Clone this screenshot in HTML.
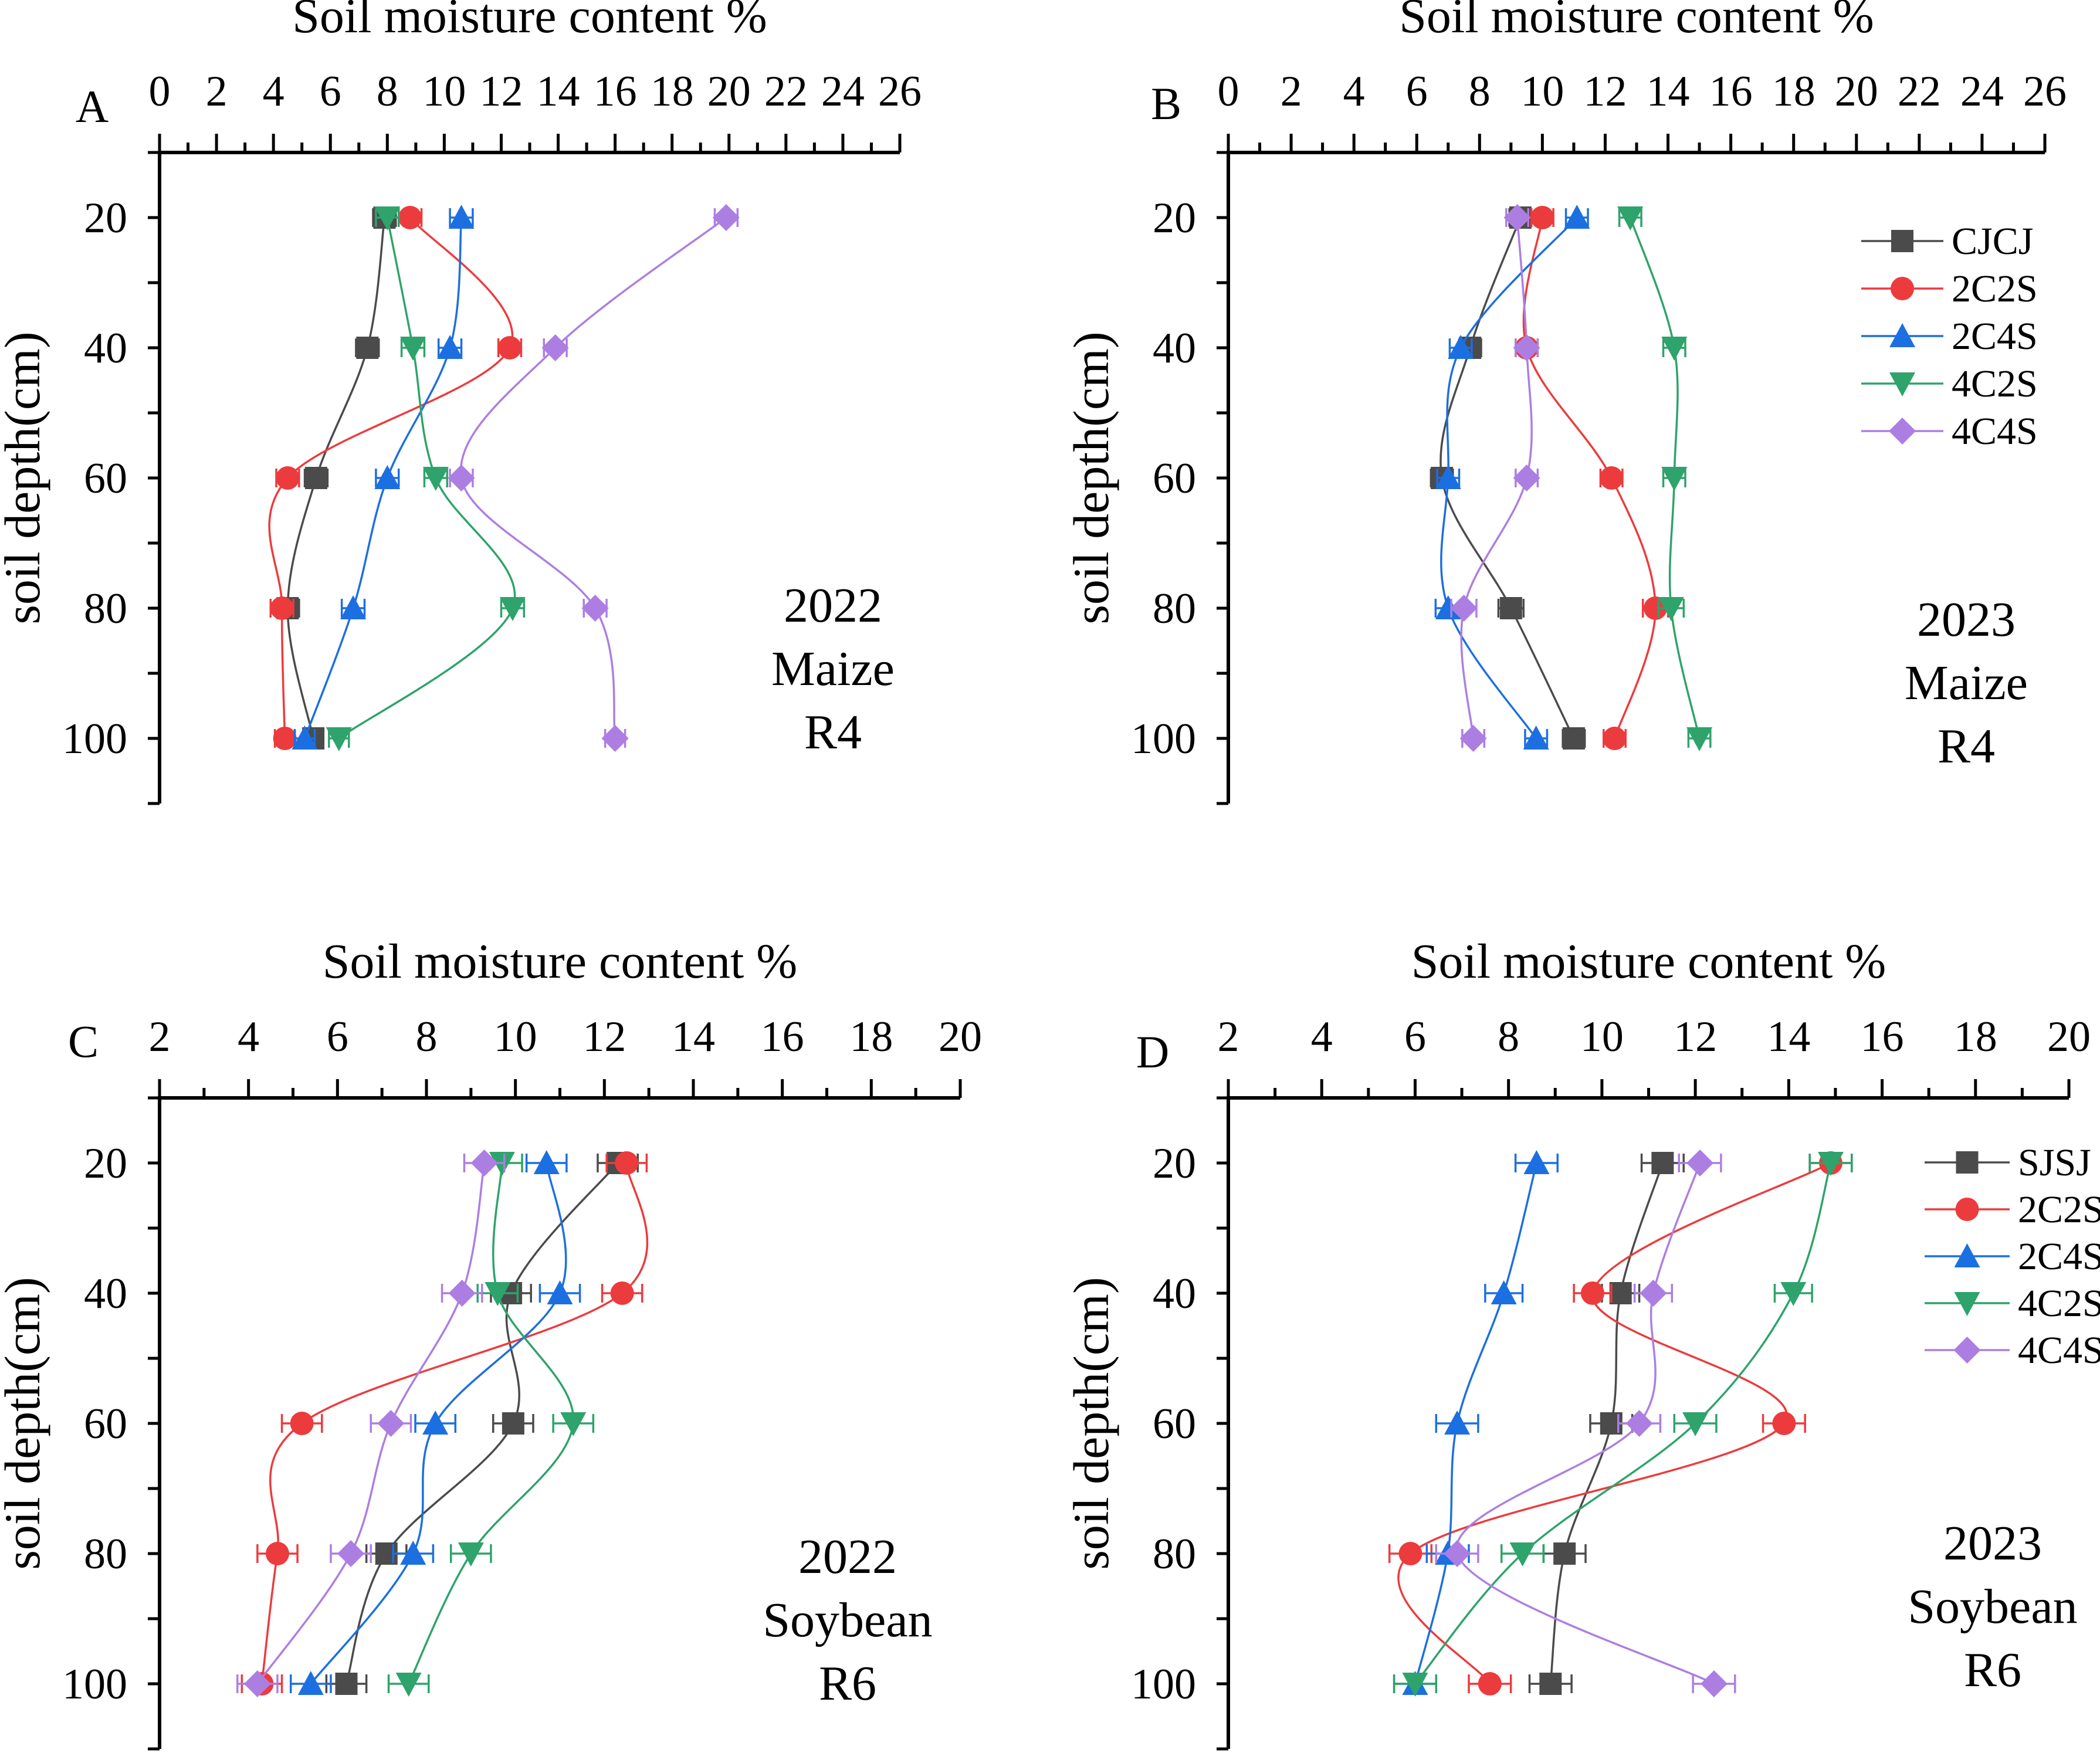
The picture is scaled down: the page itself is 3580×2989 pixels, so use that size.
<!DOCTYPE html>
<html><head><meta charset="utf-8">
<style>
html,body{margin:0;padding:0;background:#fff;}
svg{display:block;}
text{font-family:"Liberation Serif","DejaVu Serif",serif;}
</style></head>
<body>
<svg id="chart" width="3580" height="2989" viewBox="0 0 3580 2989" xmlns="http://www.w3.org/2000/svg" font-family="Liberation Serif, serif"></svg>
<script>
// ---- Data ----
const depths = [20, 40, 60, 80, 100];
const seriesNamesAB = ["CJCJ", "2C2S", "2C4S", "4C2S", "4C4S"];
const seriesNamesCD = ["SJSJ", "2C2S", "2C4S", "4C2S", "4C4S"];
// Panel A: 2022 Maize R4
const A_CJCJ = [7.9, 7.3, 5.5, 4.5, 5.4];
const A_2C2S = [8.8, 12.3, 4.5, 4.3, 4.4];
const A_2C4S = [10.6, 10.2, 8.0, 6.8, 5.1];
const A_4C2S = [8.0, 8.9, 9.7, 12.4, 6.3];
const A_4C4S = [19.9, 13.9, 10.6, 15.3, 16.0];
// Panel B: 2023 Maize R4
const B_CJCJ = [9.3, 7.7, 6.8, 9.0, 11.0];
const B_2C2S = [10.0, 9.5, 12.2, 13.6, 12.3];
const B_2C4S = [11.1, 7.4, 7.0, 7.0, 9.8];
const B_4C2S = [12.8, 14.2, 14.2, 14.1, 15.0];
const B_4C4S = [9.2, 9.5, 9.5, 7.5, 7.8];
// Panel C: 2022 Soybean R6
const C_SJSJ = [12.3, 9.9, 9.95, 7.1, 6.2];
const C_2C2S = [12.5, 12.4, 5.2, 4.65, 4.3];
const C_2C4S = [10.7, 11.0, 8.2, 7.7, 5.4];
const C_4C2S = [9.7, 9.6, 11.3, 9.0, 7.6];
const C_4C4S = [9.3, 8.8, 7.2, 6.3, 4.2];
// Panel D: 2023 Soybean R6
const D_SJSJ = [11.3, 10.4, 10.2, 9.2, 8.9];
const D_2C2S = [14.9, 9.8, 13.9, 5.9, 7.6];
const D_2C4S = [8.6, 7.9, 6.9, 6.7, 6.0];
const D_4C2S = [14.9, 14.1, 12.0, 8.3, 6.0];
const D_4C4S = [12.1, 11.1, 10.8, 6.9, 12.4];
const errA = [0.4, 0.4, 0.4, 0.4, 0.35];
const errB = [0.35, 0.35, 0.35, 0.4, 0.35];
const errC = [0.45, 0.45, 0.45, 0.45, 0.45];
const errD = [0.45, 0.4, 0.45, 0.45, 0.45];
const ticksAB = [0,2,4,6,8,10,12,14,16,18,20,22,24,26];
const ticksCD = [2,4,6,8,10,12,14,16,18,20];
const depthTicks = [20,40,60,80,100];

const colors = ["#4b4b4b", "#ec3b3d", "#1c6fe0", "#2ea36b", "#ad7ee2"];
const markers = ["square", "circle", "up", "down", "diamond"];

const svg = document.getElementById('chart');
const NS = "http://www.w3.org/2000/svg";
function mk(tag, attrs, parent){
  const e = document.createElementNS(NS, tag);
  for (const k in attrs) e.setAttribute(k, attrs[k]);
  (parent||svg).appendChild(e);
  return e;
}
function txt(s, x, y, size, anchor, parent){
  const t = mk('text', {x:x, y:y, 'font-size':size, 'text-anchor':anchor||'middle', fill:'#000', 'font-family':'Liberation Serif, serif'}, parent);
  t.textContent = s;
  return t;
}
function marker(type, x, y, color, g){
  const s = 19;
  let e;
  if (type==='square') e = mk('rect',{x:x-s,y:y-s,width:2*s,height:2*s,fill:color},g);
  else if (type==='circle') e = mk('circle',{cx:x,cy:y,r:s+1,fill:color},g);
  else if (type==='up') e = mk('polygon',{points:`${x},${y-s-3} ${x+s+3},${y+s} ${x-s-3},${y+s}`,fill:color},g);
  else if (type==='down') e = mk('polygon',{points:`${x},${y+s+3} ${x+s+3},${y-s} ${x-s-3},${y-s}`,fill:color},g);
  else e = mk('polygon',{points:`${x},${y-s-4} ${x+s+4},${y} ${x},${y+s+4} ${x-s-4},${y}`,fill:color},g);
  return e;
}
function spline(pts){
  let d = `M${pts[0][0]},${pts[0][1]}`;
  for (let i=0;i<pts.length-1;i++){
    const p0 = pts[Math.max(0,i-1)], p1 = pts[i], p2 = pts[i+1], p3 = pts[Math.min(pts.length-1,i+2)];
    const c1 = [p1[0]+(p2[0]-p0[0])/6, p1[1]+(p2[1]-p0[1])/6];
    const c2 = [p2[0]-(p3[0]-p1[0])/6, p2[1]-(p3[1]-p1[1])/6];
    d += ` C${c1[0]},${c1[1]} ${c2[0]},${c2[1]} ${p2[0]},${p2[1]}`;
  }
  return d;
}

function panel(cfg){
  const g = mk('g', {});
  
  
  const xs = v => cfg.x0 + (v - cfg.xmin) / (cfg.xmax - cfg.xmin) * (cfg.x1 - cfg.x0);
  const ys = d => cfg.y0 + (d - 10) / 100 * (cfg.y1 - cfg.y0);
  const ax = mk('line',{x1:cfg.x0-3,y1:cfg.y0,x2:cfg.x1,y2:cfg.y0,stroke:'#000','stroke-width':6},g);
  
  
  const ay = mk('line',{x1:cfg.x0,y1:cfg.y0,x2:cfg.x0,y2:cfg.y1,stroke:'#000','stroke-width':6},g);
  
  
  const ticks = cfg.ticks;
  const step = ticks[1]-ticks[0];
  for (let i=0;i<ticks.length;i++){
    const v = ticks[i];
    const x = xs(v);
    mk('line',{x1:x,y1:cfg.y0,x2:x,y2:cfg.y0-32,stroke:'#000','stroke-width':5},g);
    if (i<ticks.length-1){
      const xm = xs(v+step/2);
      mk('line',{x1:xm,y1:cfg.y0,x2:xm,y2:cfg.y0-17,stroke:'#000','stroke-width':5},g);
    }
    const t = txt(String(v), x, cfg.y0-80, 74, 'middle', g);
    
    
  }
  for (let d=10; d<=110; d+=10){
    const y = ys(d);
    mk('line',{x1:cfg.x0,y1:y,x2:cfg.x0-20,y2:y,stroke:'#000','stroke-width':5},g);
  }
  depthTicks.forEach(d=>{
    const t = txt(String(d), cfg.x0-55, ys(d)+25, 74, 'end', g);
    
    
  });
  const xt = txt('Soil moisture content %', (cfg.x0+cfg.x1)/2, cfg.y0-205, 84, 'middle', g);
  
  
  const yt = mk('text',{x:0,y:0,'font-size':86,'text-anchor':'middle',fill:'#000','font-family':'Liberation Serif, serif',transform:`translate(${cfg.x0-205},${ys(60)}) rotate(-90)`},g);
  yt.textContent = 'soil depth(cm)';
  
  
  const pl = txt(cfg.letter, cfg.letterX, cfg.letterY, 78, 'middle', g);
  
  
  cfg.ann.forEach((s,i)=>{
    const t = txt(s, cfg.annX, cfg.annY + i*108, 84, 'middle', g);
    
    
  });
  cfg.series.forEach((vals, si)=>{
    const sg = mk('g',{},g);
    
    
    const pts = vals.map((v,i)=>[xs(v), ys(depths[i])]);
    const p = mk('path',{d:spline(pts),fill:'none',stroke:colors[si],'stroke-width':3.5},sg);
    
    
    vals.forEach((v,i)=>{
      const e = cfg.err[i];
      const y = ys(depths[i]);
      const xa = xs(v-e), xb = xs(v+e);
      mk('line',{x1:xa,y1:y,x2:xb,y2:y,stroke:colors[si],'stroke-width':3.5},sg);
      mk('line',{x1:xa,y1:y-16,x2:xa,y2:y+16,stroke:colors[si],'stroke-width':3.5},sg);
      mk('line',{x1:xb,y1:y-16,x2:xb,y2:y+16,stroke:colors[si],'stroke-width':3.5},sg);
      const m = marker(markers[si], xs(v), y, colors[si], sg);
      
      
    });
  });
  if (cfg.legend){
    const lg = mk('g',{},g);
    
    
    cfg.names.forEach((n,i)=>{
      const y = cfg.legend.y + i*cfg.legend.dy;
      const eg = mk('g',{},lg);
      
      
      mk('line',{x1:cfg.legend.x,y1:y,x2:cfg.legend.x+cfg.legend.w,y2:y,stroke:colors[i],'stroke-width':3.5},eg);
      marker(markers[i], cfg.legend.x+cfg.legend.w/2, y, colors[i], eg);
      txt(n, cfg.legend.x+cfg.legend.w+14, y+22, 66, 'start', eg);
    });
  }
}

panel({name:'panel-a', x0:272, x1:1534, y0:260, y1:1370, xmin:0, xmax:26, ticks:ticksAB,
  series:[A_CJCJ,A_2C2S,A_2C4S,A_4C2S,A_4C4S], names:seriesNamesAB, err:errA,
  letter:'A', letterX:157, letterY:208, ann:['2022','Maize','R4'], annX:1420, annY:1060, legend:null});
panel({name:'panel-b', x0:2094, x1:3486, y0:260, y1:1370, xmin:0, xmax:26, ticks:ticksAB,
  series:[B_CJCJ,B_2C2S,B_2C4S,B_4C2S,B_4C4S], names:seriesNamesAB, err:errB,
  letter:'B', letterX:1988, letterY:203, ann:['2023','Maize','R4'], annX:3352, annY:1084,
  legend:{x:3173, y:411, dy:81, w:140}});
panel({name:'panel-c', x0:272, x1:1637, y0:1872, y1:2982, xmin:2, xmax:20, ticks:ticksCD,
  series:[C_SJSJ,C_2C2S,C_2C4S,C_4C2S,C_4C4S], names:seriesNamesCD, err:errC,
  letter:'C', letterX:142, letterY:1802, ann:['2022','Soybean','R6'], annX:1445, annY:2682, legend:null});
panel({name:'panel-d', x0:2094, x1:3527, y0:1872, y1:2982, xmin:2, xmax:20, ticks:ticksCD,
  series:[D_SJSJ,D_2C2S,D_2C4S,D_4C2S,D_4C4S], names:seriesNamesCD, err:errD,
  letter:'D', letterX:1965, letterY:1820, ann:['2023','Soybean','R6'], annX:3397, annY:2659,
  legend:{x:3281, y:1982, dy:80, w:145}});
</script>
</body></html>
